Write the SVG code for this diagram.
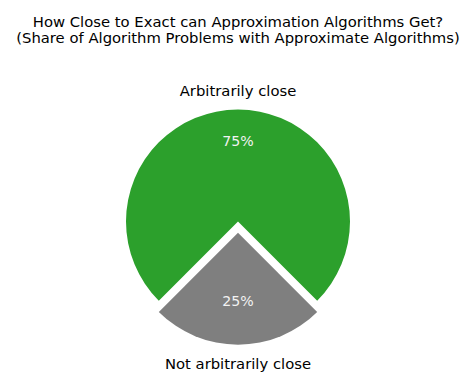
<svg xmlns="http://www.w3.org/2000/svg" width="467" height="382" viewBox="0 0 467 382">
  <style>
    text { font-family: "DejaVu Sans", "Liberation Sans", sans-serif; font-size: 14.8px; text-anchor: middle; }
    .lbl { fill: #000000; }
    .pct { fill: #f2f2f2; font-size: 14.2px; }
    .green { fill: #2ca02c; }
    .gray { fill: #7f7f7f; }
  </style>
  <rect width="467" height="382" fill="#ffffff"/>
  <g id="title">
    <text class="lbl" x="238" y="26.5">How Close to Exact can Approximation Algorithms Get?</text>
    <text class="lbl" x="238" y="43">(Share of Algorithm Problems with Approximate Algorithms)</text>
  </g>
  <g id="wedge-arbitrarily-close">
    <path class="green" d="M 238 221.5 L 158.8 300.7 A 112 112 0 1 1 317.2 300.7 Z"/>
    <text class="lbl" x="238" y="96">Arbitrarily close</text>
    <text class="pct" x="238" y="145.5">75%</text>
  </g>
  <g id="wedge-not-arbitrarily-close">
    <path class="gray" d="M 238 232.7 L 317.2 311.9 A 112 112 0 0 1 158.8 311.9 Z"/>
    <text class="lbl" x="238" y="369">Not arbitrarily close</text>
    <text class="pct" x="238" y="306">25%</text>
  </g>
</svg>
